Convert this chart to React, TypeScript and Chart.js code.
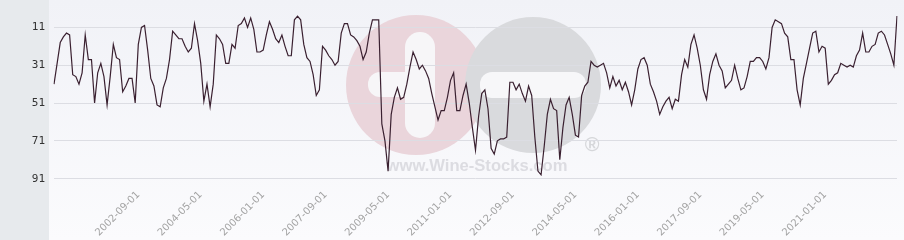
import React, { useEffect, useRef } from 'react';
import { Chart, registerables } from 'chart.js';
Chart.register(...registerables);

// monthly categories 2000-06 .. 2022-12
const startYear = 2000;
const startMonth = 6;
const monthCount = 271;
const months: string[] = [];
for (let i = 0; i < monthCount; i++) {
  const m = startMonth - 1 + i;
  const y = startYear + Math.floor(m / 12);
  const mm = (m % 12) + 1;
  months.push(`${y}-${String(mm).padStart(2, '0')}-01`);
}

const tickLabels = [
  '2002-09-01', '2004-05-01', '2006-01-01', '2007-09-01', '2009-05-01', '2011-01-01',
  '2012-09-01', '2014-05-01', '2016-01-01', '2017-09-01', '2019-05-01', '2021-01-01',
];
const yTicks = [11, 31, 51, 71, 91];

const ranks = [
  41, 30, 19, 16, 14, 15, 36, 37, 41, 35,
  15, 28, 28, 51, 35, 30, 37, 52, 37, 20,
  27, 28, 45, 42, 38, 38, 51, 20, 11, 10,
  23, 38, 42, 52, 53, 43, 38, 28, 13, 15,
  17, 17, 21, 24, 22, 9, 18, 30, 50, 41,
  53, 41, 15, 17, 20, 30, 30, 20, 22, 10,
  9, 6, 11, 6, 12, 24, 24, 23, 15, 8,
  12, 17, 19, 15, 21, 26, 26, 7, 5, 7,
  20, 27, 29, 36, 47, 44, 21, 23, 26, 28,
  31, 29, 14, 9, 9, 15, 16, 18, 21, 28,
  24, 14, 7, 7, 7, 62, 71, 87, 57, 48,
  43, 49, 48, 41, 32, 24, 28, 33, 31, 34,
  38, 46, 53, 60, 55, 55, 48, 39, 35, 55,
  55, 47, 41, 51, 64, 76, 58, 46, 44, 54,
  75, 78, 71, 70, 70, 69, 40, 40, 44, 41,
  46, 50, 42, 47, 69, 87, 89, 74, 57, 49,
  54, 55, 81, 64, 52, 48, 57, 68, 69, 47,
  42, 40, 29, 31, 32, 31, 30, 35, 43, 37,
  42, 39, 44, 40, 45, 52, 44, 33, 28, 27,
  31, 41, 45, 50, 57, 53, 50, 48, 54, 49,
  50, 36, 28, 32, 20, 15, 22, 31, 44, 49,
  36, 29, 25, 31, 34, 43, 41, 39, 31, 38,
  44, 43, 37, 29, 29, 27, 27, 29, 33, 27,
  11, 7, 8, 9, 14, 16, 28, 28, 44, 52,
  38, 30, 22, 14, 13, 24, 21, 22, 41, 39,
  36, 35, 30, 31, 32, 31, 32, 26, 23, 14,
  24, 24, 21, 20, 14, 13, 15, 20, 25, 31,
  5,
];

function roundRect(ctx: CanvasRenderingContext2D, x: number, y: number, w: number, h: number, r: number) {
  ctx.beginPath();
  ctx.moveTo(x + r, y);
  ctx.lineTo(x + w - r, y);
  ctx.arcTo(x + w, y, x + w, y + r, r);
  ctx.lineTo(x + w, y + h - r);
  ctx.arcTo(x + w, y + h, x + w - r, y + h, r);
  ctx.lineTo(x + r, y + h);
  ctx.arcTo(x, y + h, x, y + h - r, r);
  ctx.lineTo(x, y + r);
  ctx.arcTo(x, y, x + r, y, r);
  ctx.closePath();
}

const bgPlugin = {
  id: 'bgWatermark',
  beforeDraw(chart: any) {
    const { ctx, width, height } = chart;
    ctx.save();
    ctx.fillStyle = '#e7eaed';
    ctx.fillRect(0, 0, 49, height);
    const g = ctx.createLinearGradient(0, 0, 0, height);
    g.addColorStop(0, '#f1f2f7');
    g.addColorStop(1, '#fbfbfd');
    ctx.fillStyle = g;
    ctx.fillRect(49, 0, width - 49, height);

    // watermark
    ctx.fillStyle = '#ead5db';
    ctx.beginPath();
    ctx.arc(416, 85, 70, 0, Math.PI * 2);
    ctx.fill();
    ctx.fillStyle = '#f7f6f8';
    roundRect(ctx, 405, 32, 30, 106, 15);
    ctx.fill();
    roundRect(ctx, 368, 72, 50, 25, 12);
    ctx.fill();

    ctx.fillStyle = '#d9dadd';
    ctx.beginPath();
    ctx.arc(533, 85, 68, 0, Math.PI * 2);
    ctx.fill();
    ctx.fillStyle = '#f7f7f9';
    roundRect(ctx, 480, 72, 106, 26, 12);
    ctx.fill();

    ctx.fillStyle = '#d6d7da';
    ctx.font = 'bold 20px "Liberation Sans"';
    ctx.textAlign = 'center';
    ctx.textBaseline = 'middle';
    ctx.fillText('®', 592, 145);

    const txt = 'www.Wine-Stocks.com';
    ctx.font = 'bold 20px "Liberation Sans"';
    const w = ctx.measureText(txt).width;
    const size = 20 * (181 / w);
    ctx.font = `bold ${size.toFixed(1)}px "Liberation Sans"`;
    ctx.fillStyle = 'rgba(212,213,219,0.8)';
    ctx.fillText(txt, 477, 166);
    ctx.restore();
  },
};

export default function App() {
  const ref = useRef<HTMLCanvasElement | null>(null);
  useEffect(() => {
    if (!ref.current) return;
    const chart = new Chart(ref.current, {
      type: 'line',
      data: {
        labels: months,
        datasets: [
          {
            data: ranks,
            borderColor: '#3a2030',
            borderWidth: 1.2,
            pointRadius: 0,
            tension: 0,
            fill: false,
          },
        ],
      },
      options: {
        animation: false,
        responsive: false,
        devicePixelRatio: 1,
        layout: { padding: { left: 0, right: 7, top: 0, bottom: 0 } },
        plugins: { legend: { display: false }, tooltip: { enabled: false } },
        scales: {
          x: {
            type: 'category',
            grid: { display: false },
            border: { display: false },
            ticks: {
              autoSkip: false,
              minRotation: 45,
              maxRotation: 45,
              color: '#a3a3a3',
              padding: -9,
              font: { family: 'DejaVu Sans', size: 10 },
              callback: (v: any) => months[v as number],
            },
            afterBuildTicks: (s: any) => {
              s.ticks = s.ticks.filter((t: any) => tickLabels.includes(months[t.value]));
            },
            afterFit: (s: any) => {
              s.height = 50;
              s.paddingLeft = 0;
              s.paddingRight = 0;
            },
          },
          y: {
            reverse: true,
            min: -3.5,
            max: 97,
            grid: { color: '#dcdde3', drawTicks: false },
            border: { display: false },
            ticks: {
              color: '#333',
              padding: 9,
              font: { family: 'DejaVu Sans Mono', size: 11 },
            },
            afterBuildTicks: (s: any) => {
              s.ticks = yTicks.map((v) => ({ value: v }));
            },
            afterFit: (s: any) => {
              s.width = 54;
              s.paddingTop = 0;
              s.paddingBottom = 0;
            },
          },
        },
      },
      plugins: [bgPlugin],
    });
    return () => chart.destroy();
  }, []);
  return (
    <div style={{ position: 'absolute', left: 0, top: 0, width: 904, height: 240 }}>
      <canvas ref={ref} width={904} height={240} style={{ display: 'block' }} />
    </div>
  );
}
